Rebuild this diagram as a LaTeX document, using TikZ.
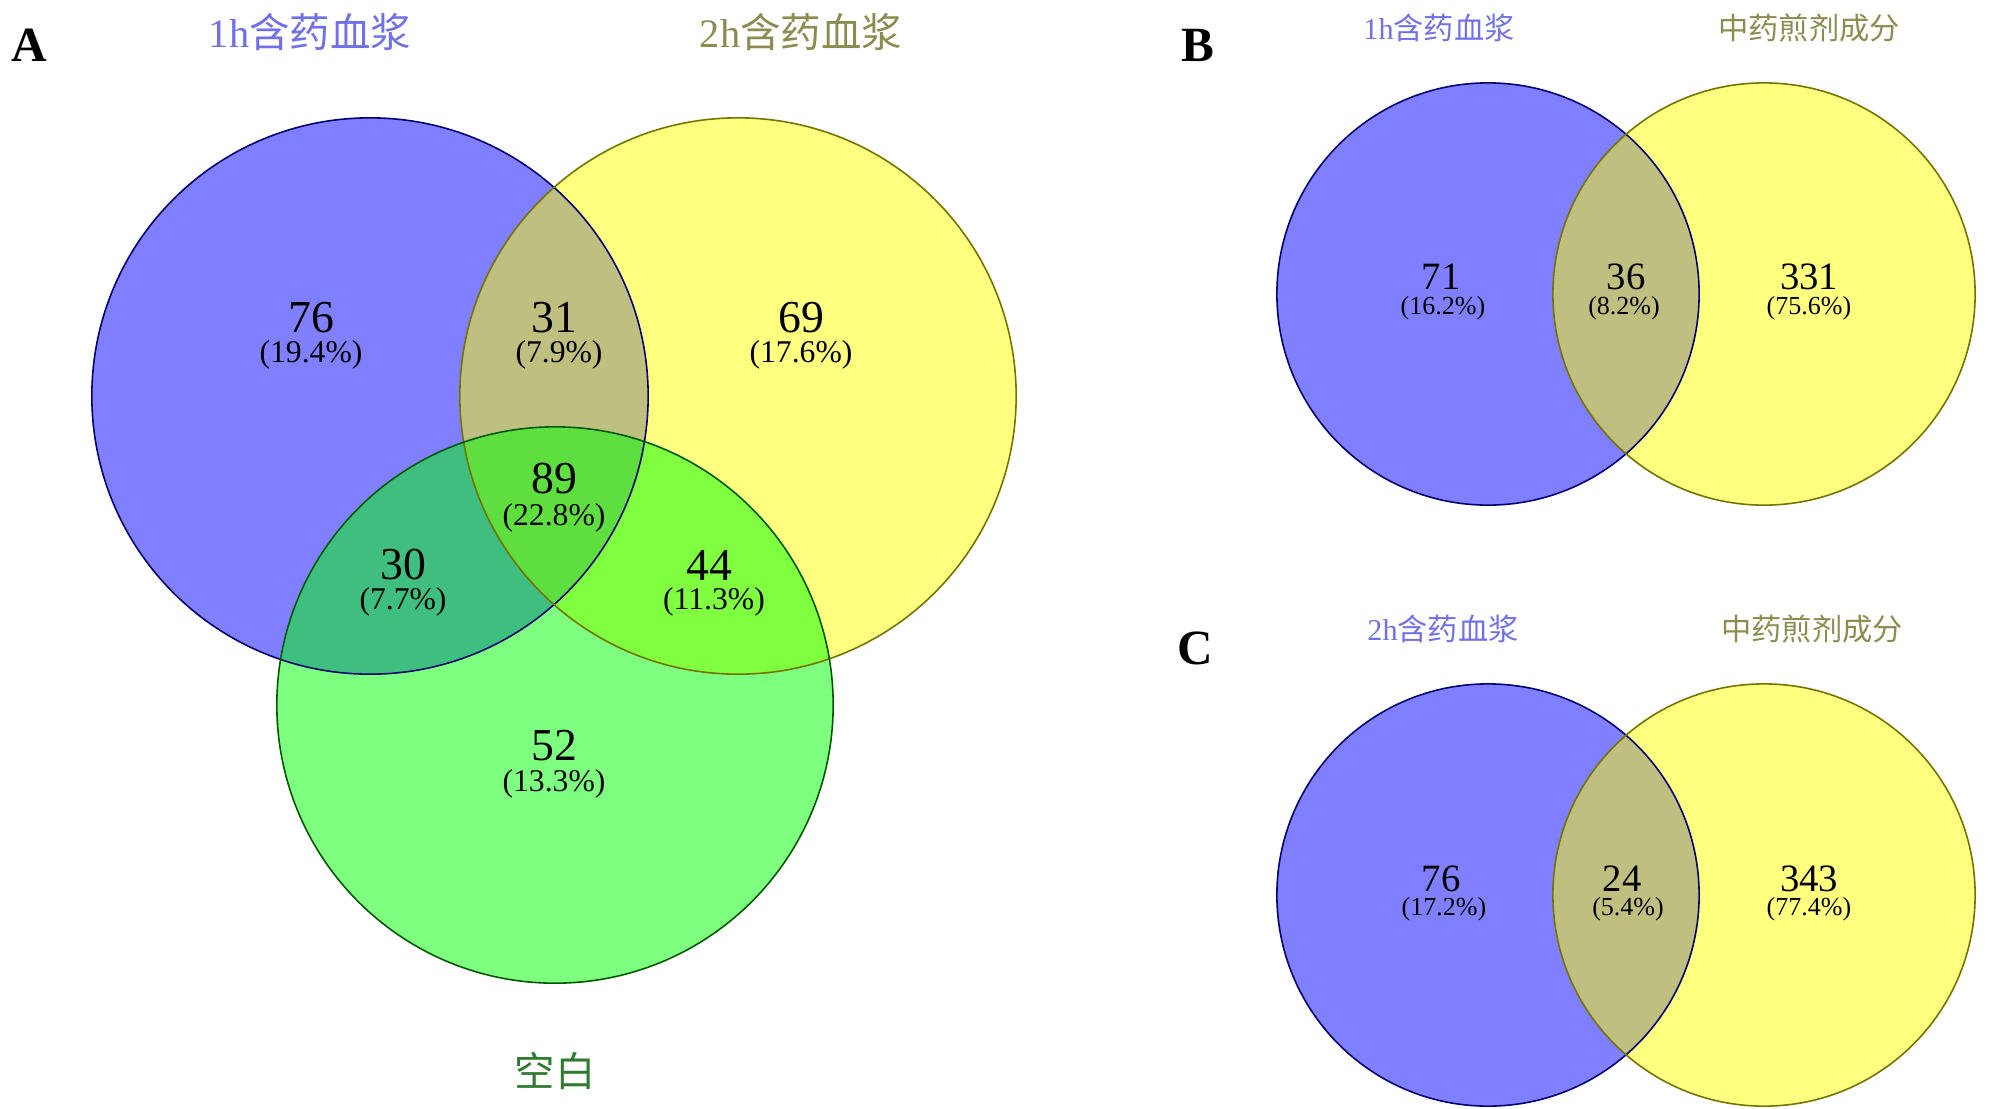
\documentclass[tikz,border=0pt]{standalone}
\usepackage{fontspec}
\setmainfont{Liberation Serif}
\newfontfamily\cjk{Noto Sans CJK SC}
\definecolor{lblblue}{RGB}{112,112,232}
\definecolor{lblolive}{RGB}{140,140,80}
\definecolor{lblgreen}{RGB}{46,122,46}
\definecolor{vblue}{RGB}{0,0,255}
\definecolor{vyellow}{RGB}{255,255,0}
\definecolor{vgreen}{RGB}{0,255,0}
\tikzset{
  vfill/.style={fill=#1, fill opacity=0.5, draw=none},
  vline/.style={draw=#1, line width=0.45pt},
  bignum/.style={font=\fontsize{13}{13}\selectfont, inner sep=0pt},
  bigpct/.style={font=\fontsize{9}{9}\selectfont, inner sep=0pt},
  smnum/.style={font=\fontsize{11}{11}\selectfont, inner sep=0pt},
  smpct/.style={font=\fontsize{7.4}{7.4}\selectfont, inner sep=0pt},
  panel/.style={font=\bfseries\fontsize{14}{14}\selectfont, inner sep=0pt},
  biglbl/.style={font=\fontsize{11.5}{11.5}\selectfont, inner sep=0pt},
  smlbl/.style={font=\fontsize{8.6}{8.6}\selectfont, inner sep=0pt},
}
\begin{document}
\begin{tikzpicture}[x=0.01cm, y=-0.01cm]
\useasboundingbox (0,0) rectangle (2000,1108);
% ---------- Panel A ----------
\fill[vfill=vblue] (370,396) circle[radius=2.78cm];
\fill[vfill=vyellow] (738,396) circle[radius=2.78cm];
\fill[vfill=vgreen] (555,705) circle[radius=2.78cm];
\draw[vline=vblue!45!black] (370,396) circle[radius=2.78cm];
\draw[vline=vyellow!45!black] (738,396) circle[radius=2.78cm];
\draw[vline=vgreen!35!black] (555,705) circle[radius=2.78cm];
\node[panel] (pA) at (29,45) {A};
\node[biglbl, text=lblblue] (lA1) at (310,32) {1h{\cjk 含药血浆}};
\node[biglbl, text=lblolive] (lA2) at (801,32) {2h{\cjk 含药血浆}};
\node[biglbl, text=lblgreen] (lA3) at (555,1071) {\cjk 空白};
\node[bignum] (nA1) at (311,318) {76};
\node[bigpct] (pA1) at (311,355) {(19.4\%)};
\node[bignum] (nA2) at (554,318) {31};
\node[bigpct] (pA2) at (559,355) {(7.9\%)};
\node[bignum] (nA3) at (801,318) {69};
\node[bigpct] (pA3) at (801,355) {(17.6\%)};
\node[bignum] (nA4) at (554,479) {89};
\node[bigpct] (pA4) at (554,518) {(22.8\%)};
\node[bignum] (nA5) at (403,565) {30};
\node[bigpct] (pA5) at (403,602) {(7.7\%)};
\node[bignum] (nA6) at (709,565) {44};
\node[bigpct] (pA6) at (714,602) {(11.3\%)};
\node[bignum] (nA7) at (554,746) {52};
\node[bigpct] (pA7) at (554,784) {(13.3\%)};
% ---------- Panel B ----------
\fill[vfill=vblue] (1488,294) circle[radius=2.11cm];
\fill[vfill=vyellow] (1764,294) circle[radius=2.11cm];
\draw[vline=vblue!45!black] (1488,294) circle[radius=2.11cm];
\draw[vline=vyellow!45!black] (1764,294) circle[radius=2.11cm];
\node[panel] (pB) at (1198,45) {B};
\node[smlbl, text=lblblue] (lB1) at (1439,28) {1h{\cjk 含药血浆}};
\node[smlbl, text=lblolive] (lB2) at (1809,28) {\cjk 中药煎剂成分};
\node[smnum] (nB1) at (1441,277) {71};
\node[smpct] (pB1) at (1443,308) {(16.2\%)};
\node[smnum] (nB2) at (1626,277) {36};
\node[smpct] (pB2) at (1624,308) {(8.2\%)};
\node[smnum] (nB3) at (1809,277) {331};
\node[smpct] (pB3) at (1809,308) {(75.6\%)};
% ---------- Panel C ----------
\fill[vfill=vblue] (1488,895) circle[radius=2.11cm];
\fill[vfill=vyellow] (1764,895) circle[radius=2.11cm];
\draw[vline=vblue!45!black] (1488,895) circle[radius=2.11cm];
\draw[vline=vyellow!45!black] (1764,895) circle[radius=2.11cm];
\node[panel] (pC) at (1195,648) {C};
\node[smlbl, text=lblblue] (lC1) at (1443,629) {2h{\cjk 含药血浆}};
\node[smlbl, text=lblolive] (lC2) at (1812,629) {\cjk 中药煎剂成分};
\node[smnum] (nC1) at (1441,879) {76};
\node[smpct] (pC1) at (1444,909) {(17.2\%)};
\node[smnum] (nC2) at (1622,879) {24};
\node[smpct] (pC2) at (1628,909) {(5.4\%)};
\node[smnum] (nC3) at (1809,879) {343};
\node[smpct] (pC3) at (1809,909) {(77.4\%)};
\end{tikzpicture}
\end{document}
